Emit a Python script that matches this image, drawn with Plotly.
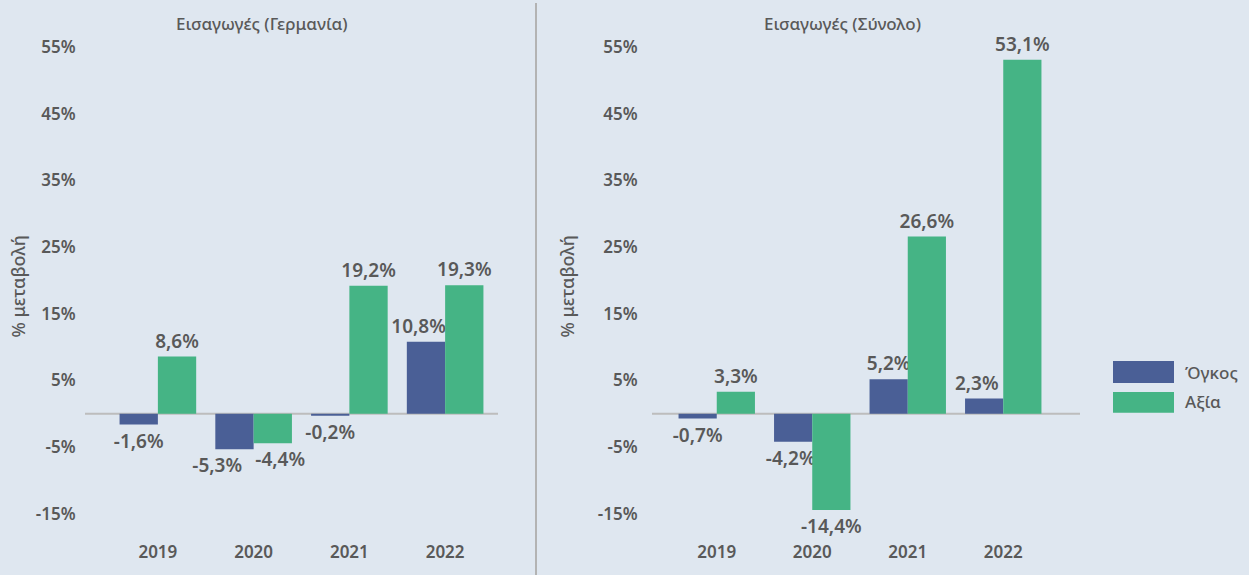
import plotly.graph_objects as go

years = ["2019", "2020", "2021", "2022"]
de_volume = [-1.6, -5.3, -0.2, 10.8]
de_value = [8.6, -4.4, 19.2, 19.3]
tot_volume = [-0.7, -4.2, 5.2, 2.3]
tot_value = [3.3, -14.4, 26.6, 53.1]
ytick_vals = [-15, -5, 5, 15, 25, 35, 45, 55]
ytick_text = ["-15%", "-5%", "5%", "15%", "25%", "35%", "45%", "55%"]
panel_titles = ["Εισαγωγές (Γερμανία)", "Εισαγωγές (Σύνολο)"]
series_names = ["Όγκος", "Αξία"]
y_title = "% μεταβολή"

# label nudges: trailing no-break spaces push a label left, leading ones push it right
de_volume_pad = [0, 7, 0, 3]
de_value_lead = [0, 3, 0, 0]
tot_volume_pad = [0, 1, 0, 3]
no_pad = [0, 0, 0, 0]

W, H = 1249, 575
BG = "#dfe7f0"
VOL = "#4a5f96"
VAL = "#45b485"
TXT = "#595959"
FONT = "Noto Sans"


def fmt(v, pad=0, lead=0):
    return "\u00a0" * lead + f"{v:.1f}".replace(".", ",") + "%" + "\u00a0" * pad


def px(x):
    return x / W


def py(y):
    return 1 - y / H


fig = go.Figure()
panels = [(de_volume, de_value, de_volume_pad, de_value_lead, "x", "y"),
          (tot_volume, tot_value, tot_volume_pad, no_pad, "x2", "y2")]
for vol, val, vpad, vlead, xa, ya in panels:
    for vals, pads, leads, color, name in [(vol, vpad, no_pad, VOL, series_names[0]),
                                           (val, no_pad, vlead, VAL, series_names[1])]:
        fig.add_trace(go.Bar(
            x=years, y=vals, name=name, marker=dict(color=color, line=dict(width=0)),
            text=[fmt(v, p, l) for v, p, l in zip(vals, pads, leads)], textposition="outside",
            constraintext="none", cliponaxis=False,
            textfont=dict(family=FONT, size=19, color=TXT, weight=600),
            xaxis=xa, yaxis=ya, showlegend=False, hoverinfo="skip",
        ))

yrange = [-18.2, 56.4]
ydom = [py(535), py(35)]
axis_common = dict(showgrid=False, zeroline=False, showline=False, fixedrange=True)
xt = dict(tickfont=dict(size=17, color=TXT, weight=600), ticks="outside", ticklen=1,
          tickcolor="rgba(0,0,0,0)")
yt = dict(tickvals=ytick_vals, ticktext=ytick_text, ticks="outside",
          tickcolor="rgba(0,0,0,0)", tickfont=dict(size=17, color=TXT, weight=600))
fig.update_layout(
    width=W, height=H, margin=dict(l=0, r=0, t=0, b=0),
    paper_bgcolor=BG, plot_bgcolor=BG,
    barmode="group", bargap=0.2, bargroupgap=0,
    font=dict(family=FONT, color=TXT),
    xaxis=dict(domain=[px(110), px(493)], anchor="y", **axis_common, **xt),
    xaxis2=dict(domain=[px(669), px(1051)], anchor="y2", **axis_common, **xt),
    yaxis=dict(domain=ydom, range=yrange, anchor="x", ticklen=30, **axis_common, **yt),
    yaxis2=dict(domain=ydom, range=yrange, anchor="x2", ticklen=27, **axis_common, **yt),
)

shapes = [
    dict(type="line", xref="paper", yref="paper", x0=px(536), x1=px(536), y0=0, y1=1,
         line=dict(color="#b3b3b3", width=2)),
    dict(type="line", xref="paper", yref="y", x0=px(85), x1=px(498), y0=0, y1=0,
         line=dict(color="#bdbdbd", width=2), layer="below"),
    dict(type="line", xref="paper", yref="y2", x0=px(652), x1=px(1080), y0=0, y1=0,
         line=dict(color="#bdbdbd", width=2), layer="below"),
    dict(type="rect", xref="paper", yref="paper", x0=px(1113), x1=px(1174), y0=py(382), y1=py(360),
         fillcolor=VOL, line=dict(width=0)),
    dict(type="rect", xref="paper", yref="paper", x0=px(1113), x1=px(1174), y0=py(412), y1=py(391),
         fillcolor=VAL, line=dict(width=0)),
]
fig.update_layout(shapes=shapes)

annotations = []
for text, x in [(panel_titles[0], 262), (panel_titles[1], 842)]:
    annotations.append(dict(text=text, xref="paper", yref="paper", x=px(x), y=py(21),
                            xanchor="center", yanchor="middle", showarrow=False,
                            font=dict(size=17, color=TXT, weight=500)))
for x in [18, 567]:
    annotations.append(dict(text=y_title, xref="paper", yref="paper", x=px(x), y=py(285),
                            xanchor="center", yanchor="middle", textangle=-90, showarrow=False,
                            font=dict(size=18, color=TXT, weight=500)))
for name, y in [(series_names[0], 371), (series_names[1], 401)]:
    annotations.append(dict(text=name, xref="paper", yref="paper", x=px(1183), y=py(y),
                            xanchor="left", yanchor="middle", showarrow=False,
                            font=dict(size=17, color=TXT, weight=500)))
fig.update_layout(annotations=annotations)

fig.write_html("out.html", config={"displayModeBar": False},
               post_script="document.body.style.margin='0';")
